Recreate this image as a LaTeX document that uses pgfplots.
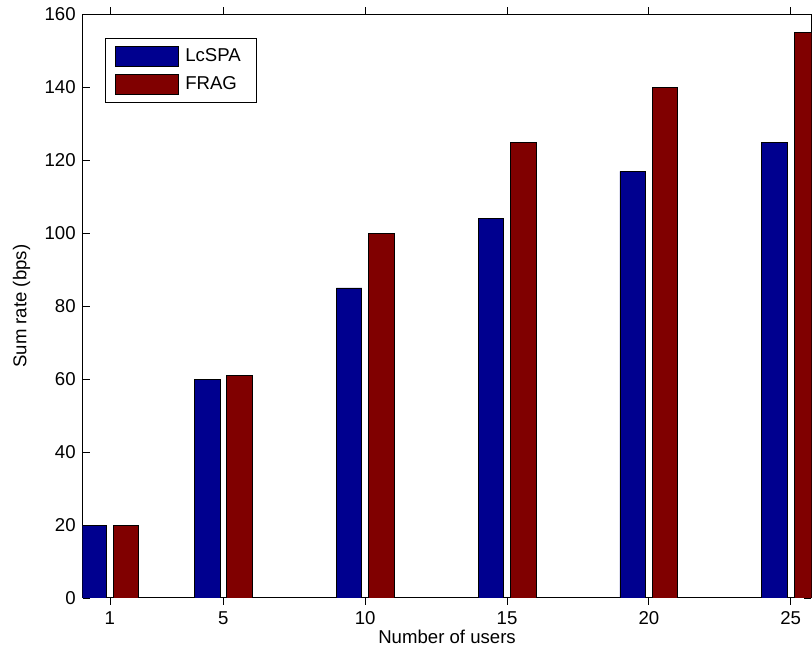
\documentclass[border=0pt]{standalone}
\usepackage{pgfplots}
\pgfplotsset{compat=1.18}
\usepackage{fontspec}
\setmainfont{Liberation Sans}
\definecolor{barblue}{RGB}{0,0,143}
\definecolor{barred}{RGB}{128,0,0}
\begin{document}
\begin{tikzpicture}
\begin{axis}[
 at={(0,0)}, anchor=south west,
 scale only axis, width=364.4pt, height=291.75pt,
 xmin=0.04, xmax=25.73, ymin=0, ymax=160,
 xtick={1,5,10,15,20,25}, ytick={0,20,...,160},
 tick align=inside, major tick length=3.5pt,
 tick style={black, line width=0.4pt},
 axis line style={line width=0.5pt},
 font=\fontsize{9.3}{11}\selectfont,
 /pgf/number format/assume math mode=true,
 ybar, bar width=0.9,
 xlabel={Number of users}, ylabel={Sum rate (bps)},
 every axis x label/.style={at={(axis description cs:0.5,-0.0668)}, anchor=center},
 every axis y label/.style={at={(axis description cs:-0.084,0.5)}, anchor=center, rotate=90},
 legend cell align=left,
 legend style={at={(axis description cs:0.0306,0.9602)}, anchor=north west,
   draw=black, line width=0.5pt, inner xsep=5pt, inner ysep=3pt, row sep=2pt,
   font=\fontsize{9.3}{11}\selectfont,
   nodes={inner xsep=3pt}},
 legend image code/.code={\draw[#1] (0pt,-5pt) rectangle (31.5pt,5pt);},
]
\addplot[fill=barblue, draw=black, line width=0.4pt, bar shift=-0.57] coordinates {(1,20) (5,60) (10,85) (15,104) (20,117) (25,125)};
\addplot[fill=barred, draw=black, line width=0.4pt, bar shift=0.57] coordinates {(1,20) (5,61) (10,100) (15,125) (20,140) (25,155)};
\legend{LcSPA, FRAG}
\end{axis}
\pgfresetboundingbox
\useasboundingbox (-41.35pt,-27.5pt) rectangle (364.7pt,299pt);
\end{tikzpicture}
\end{document}
